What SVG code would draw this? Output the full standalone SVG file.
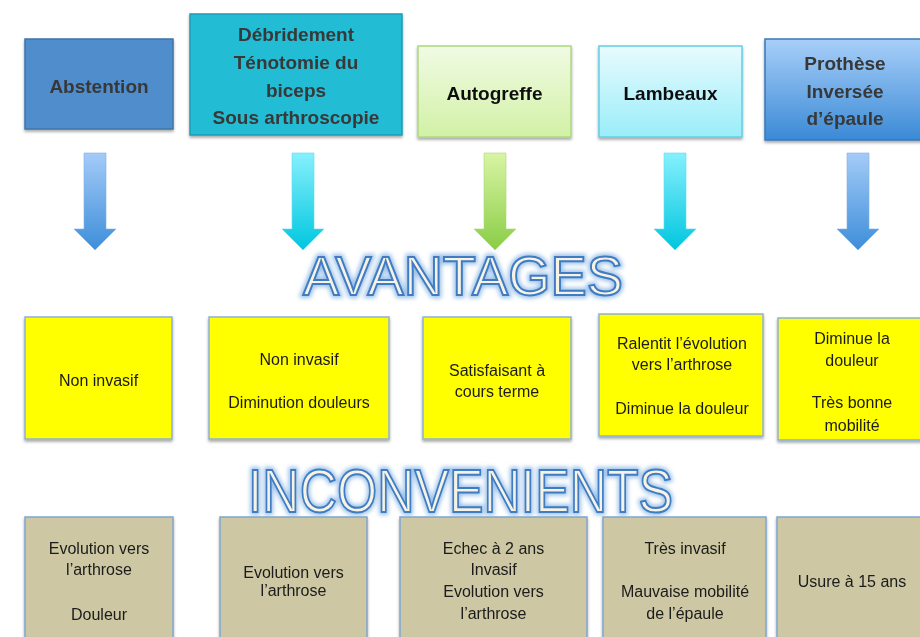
<svg xmlns="http://www.w3.org/2000/svg" width="920" height="637" viewBox="0 0 920 637">
<defs>
<linearGradient id="gGreen" x1="0" y1="0" x2="0" y2="1"><stop offset="0" stop-color="#f0fbe4"/><stop offset="1" stop-color="#d2f1a6"/></linearGradient>
<linearGradient id="gCyan" x1="0" y1="0" x2="0" y2="1"><stop offset="0" stop-color="#e8fbfe"/><stop offset="1" stop-color="#9aedf9"/></linearGradient>
<linearGradient id="gBlue" x1="0" y1="0" x2="0" y2="1"><stop offset="0" stop-color="#a8cff9"/><stop offset="1" stop-color="#3a8ad6"/></linearGradient>
<linearGradient id="aBlue" x1="0" y1="0" x2="0" y2="1"><stop offset="0" stop-color="#a4cbf8"/><stop offset="1" stop-color="#3d8ed9"/></linearGradient>
<linearGradient id="aCyan" x1="0" y1="0" x2="0" y2="1"><stop offset="0" stop-color="#86f0fd"/><stop offset="1" stop-color="#00c6df"/></linearGradient>
<linearGradient id="aGreen" x1="0" y1="0" x2="0" y2="1"><stop offset="0" stop-color="#d8f5a4"/><stop offset="1" stop-color="#8acd46"/></linearGradient>
<filter id="shadow" x="-10%" y="-10%" width="125%" height="125%">
<feGaussianBlur in="SourceAlpha" stdDeviation="1.5"/>
<feOffset dx="0" dy="2" result="b"/>
<feComponentTransfer><feFuncA type="linear" slope="0.35"/></feComponentTransfer>
<feMerge><feMergeNode/><feMergeNode in="SourceGraphic"/></feMerge>
</filter>
<filter id="glow" x="-5%" y="-20%" width="110%" height="140%">
<feGaussianBlur stdDeviation="2"/>
</filter>
</defs>
<style>
.t{font-family:"Liberation Sans",Arial,sans-serif;text-anchor:middle;}
.hb{font-size:19px;font-weight:bold;}
.hd{fill:#383838;}
.hk{fill:#111;}
.b{font-size:16px;fill:#1a1a1a;}
.yel{fill:#ffff00;stroke:#8eb2d2;stroke-width:1.5;}
.tan{fill:#cdc8a3;stroke:#7fa6cf;stroke-width:1.5;}
.title{font-family:"Liberation Sans",Arial,sans-serif;fill:#f6f3e5;stroke:#3f7cc4;stroke-width:2;}
.titleglow{font-family:"Liberation Sans",Arial,sans-serif;fill:none;stroke:#9cc2ea;stroke-width:6;}
</style>
<rect width="920" height="637" fill="#ffffff"/>

<g id="abstention" filter="url(#shadow)">
<rect x="25" y="39" width="148" height="90" fill="#4f8dcc" stroke="#3f74aa" stroke-width="1.5"/>
<text class="t hb hd" x="99" y="93">Abstention</text>
</g>
<g id="debridement" filter="url(#shadow)">
<rect x="190" y="14" width="212" height="121" fill="#22bcd4" stroke="#1b9db4" stroke-width="1.5"/>
<text class="t hb hd" x="296" y="41">Débridement</text>
<text class="t hb hd" x="296" y="69">Ténotomie du</text>
<text class="t hb hd" x="296" y="97">biceps</text>
<text class="t hb hd" x="296" y="124">Sous arthroscopie</text>
</g>
<g id="autogreffe" filter="url(#shadow)">
<rect x="418" y="46" width="153" height="91" fill="url(#gGreen)" stroke="#acd97c" stroke-width="1.5"/>
<text class="t hb hk" x="494.5" y="100">Autogreffe</text>
</g>
<g id="lambeaux" filter="url(#shadow)">
<rect x="599" y="46" width="143" height="91" fill="url(#gCyan)" stroke="#62cfe2" stroke-width="1.5"/>
<text class="t hb hk" x="670.5" y="100">Lambeaux</text>
</g>
<g id="prothese" filter="url(#shadow)">
<rect x="765" y="39" width="160" height="101" fill="url(#gBlue)" stroke="#3a78b8" stroke-width="1.5"/>
<text class="t hb hd" x="845" y="70">Prothèse</text>
<text class="t hb hd" x="845" y="98">Inversée</text>
<text class="t hb hd" x="845" y="125">d’épaule</text>
</g>

<g id="connectors">
<path d="M84,153 H106 V229 H116 L95,250 L74,229 H84 Z" fill="url(#aBlue)" stroke="#7fb0e6" stroke-width="0.6"/>
<path d="M292,153 H314 V229 H324 L303,250 L282,229 H292 Z" fill="url(#aCyan)" stroke="#5fdcee" stroke-width="0.6"/>
<path d="M484,153 H506 V229 H516 L495,250 L474,229 H484 Z" fill="url(#aGreen)" stroke="#a8d878" stroke-width="0.6"/>
<path d="M664,153 H686 V229 H696 L675,250 L654,229 H664 Z" fill="url(#aCyan)" stroke="#5fdcee" stroke-width="0.6"/>
<path d="M847,153 H869 V229 H879 L858,250 L837,229 H847 Z" fill="url(#aBlue)" stroke="#7fb0e6" stroke-width="0.6"/>
</g>

<g id="avantages">
<text class="titleglow" x="303" y="295" font-size="56" textLength="320" lengthAdjust="spacingAndGlyphs" filter="url(#glow)">AVANTAGES</text>
<text class="title" x="303" y="295" font-size="56" textLength="320" lengthAdjust="spacingAndGlyphs">AVANTAGES</text>
</g>

<g id="av1" filter="url(#shadow)">
<rect class="yel" x="25" y="317" width="147" height="122"/>
<text class="t b" x="98.5" y="386">Non invasif</text>
</g>
<g id="av2" filter="url(#shadow)">
<rect class="yel" x="209" y="317" width="180" height="122"/>
<text class="t b" x="299" y="365">Non invasif</text>
<text class="t b" x="299" y="408">Diminution douleurs</text>
</g>
<g id="av3" filter="url(#shadow)">
<rect class="yel" x="423" y="317" width="148" height="122"/>
<text class="t b" x="497" y="376">Satisfaisant à</text>
<text class="t b" x="497" y="397">cours terme</text>
</g>
<g id="av4" filter="url(#shadow)">
<rect class="yel" x="599" y="314" width="164" height="122"/>
<text class="t b" x="682" y="349">Ralentit l’évolution</text>
<text class="t b" x="682" y="370">vers l’arthrose</text>
<text class="t b" x="682" y="414">Diminue la douleur</text>
</g>
<g id="av5" filter="url(#shadow)">
<rect class="yel" x="778" y="318" width="150" height="122"/>
<text class="t b" x="852" y="344">Diminue la</text>
<text class="t b" x="852" y="366">douleur</text>
<text class="t b" x="852" y="408">Très bonne</text>
<text class="t b" x="852" y="431">mobilité</text>
</g>

<g id="inconvenients">
<text class="titleglow" x="248" y="512" font-size="62" textLength="425" lengthAdjust="spacingAndGlyphs" filter="url(#glow)">INCONVENIENTS</text>
<text class="title" x="248" y="512" font-size="62" textLength="425" lengthAdjust="spacingAndGlyphs">INCONVENIENTS</text>
</g>

<g id="in1" filter="url(#shadow)">
<rect class="tan" x="25" y="517" width="148" height="130"/>
<text class="t b" x="99" y="554">Evolution vers</text>
<text class="t b" x="99" y="575">l’arthrose</text>
<text class="t b" x="99" y="620">Douleur</text>
</g>
<g id="in2" filter="url(#shadow)">
<rect class="tan" x="220" y="517" width="147" height="130"/>
<text class="t b" x="293.5" y="578">Evolution vers</text>
<text class="t b" x="293.5" y="596">l’arthrose</text>
</g>
<g id="in3" filter="url(#shadow)">
<rect class="tan" x="400" y="517" width="187" height="130"/>
<text class="t b" x="493.5" y="554">Echec à 2 ans</text>
<text class="t b" x="493.5" y="575">Invasif</text>
<text class="t b" x="493.5" y="597">Evolution vers</text>
<text class="t b" x="493.5" y="619">l’arthrose</text>
</g>
<g id="in4" filter="url(#shadow)">
<rect class="tan" x="603" y="517" width="163" height="130"/>
<text class="t b" x="685" y="554">Très invasif</text>
<text class="t b" x="685" y="597">Mauvaise mobilité</text>
<text class="t b" x="685" y="619">de l’épaule</text>
</g>
<g id="in5" filter="url(#shadow)">
<rect class="tan" x="777" y="517" width="150" height="130"/>
<text class="t b" x="852" y="587">Usure à 15 ans</text>
</g>
</svg>
